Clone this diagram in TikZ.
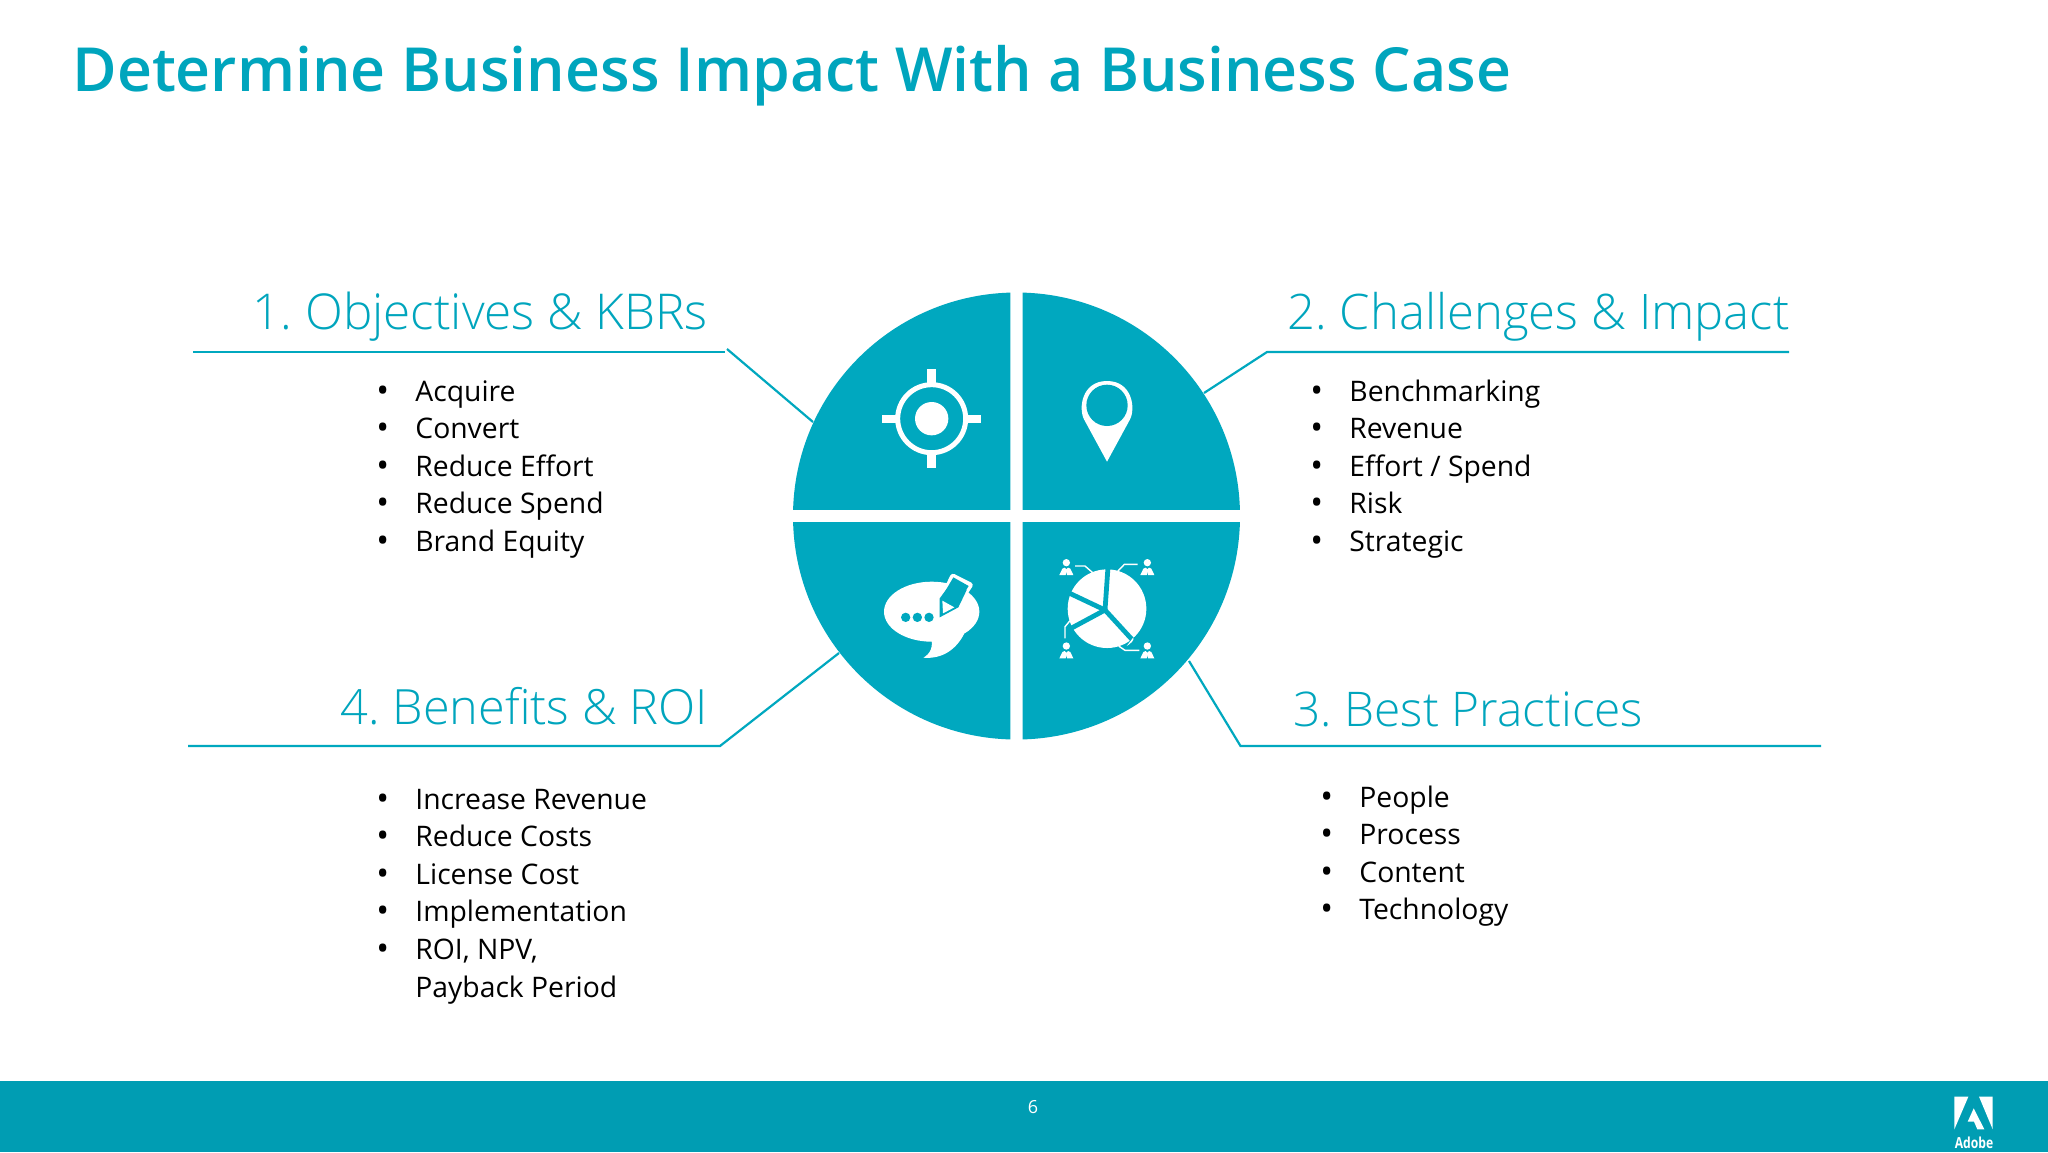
\documentclass[tikz,border=0pt]{standalone}
\usepackage{fontspec}
\setmainfont{Open Sans}
\newfontfamily\lightface{Open Sans Light}
\IfFontExistsTF{Open Sans Semibold}{\newfontfamily\semiface{Open Sans Semibold}}{\newfontfamily\semiface{Open Sans}[FakeBold=1.2]}
\definecolor{adobeteal}{HTML}{00A8BF}
\definecolor{bandteal}{HTML}{009DB3}
\definecolor{headteal}{HTML}{00A5BD}
\tikzset{
  ruleline/.style={draw=adobeteal,line width=1.1pt},
  headtext/.style={anchor=base west,inner sep=0pt,text=headteal,font=\lightface\fontsize{24.4}{28}\selectfont},
  bodytext/.style={anchor=base west,inner sep=0pt,text=black,font=\fontsize{14.15}{18}\selectfont},
  bullettext/.style={anchor=base west,inner sep=0pt,text=black,font=\fontsize{17}{20}\selectfont},
  whiteline/.style={draw=white,line width=0.7pt,line join=round}
}
\newcommand{\personicon}[2]{%
  \fill[white] (#1,#2-2) circle[radius=11];
  \fill[white] (#1-21,#2+35) -- (#1-12,#2+16) -- (#1-5,#2+13) -- (#1,#2+18) -- (#1+5,#2+13) -- (#1+12,#2+16) -- (#1+21,#2+35) -- (#1+2,#2+35) -- (#1,#2+25) -- (#1-2,#2+35) -- cycle;
}
\begin{document}
\begin{tikzpicture}[x=0.5pt,y=-0.5pt]
\useasboundingbox (0,0) rectangle (2048,1152);
\fill[white] (0,0) rectangle (2048,1152);
\fill[bandteal] (0,1081) rectangle (2048,1152);

\node[anchor=base west,inner sep=0pt,text=headteal,font=\semiface\fontsize{30.4}{36}\selectfont] (title) at (72,91) {Determine Business Impact With a Business Case};

% the four quarters
\foreach \qx/\qy/\ax/\ay in {1022.7/509.7/1250/280,1022.7/522.3/1250/760,1010.3/509.7/780/280,1010.3/522.3/780/760}{
  \begin{scope}
    \clip (\qx,\qy) rectangle (\ax,\ay);
    \fill[adobeteal] (1016.5,516) circle[radius=223.5];
  \end{scope}
}

% rules and leaders
\coordinate (r1a) at (193,352); \coordinate (r1b) at (725,352);
\coordinate (d1a) at (727,349); \coordinate (d1b) at (813,422);
\coordinate (r2a) at (1267,352); \coordinate (r2b) at (1789,352);
\coordinate (d2b) at (1204,393);
\coordinate (r3a) at (1240.5,746); \coordinate (r3b) at (1821,746);
\coordinate (d3b) at (1189,661);
\coordinate (r4a) at (188,746); \coordinate (r4b) at (720,746);
\coordinate (d4b) at (839,653);
\draw[ruleline] (r1a) -- (r1b);
\draw[ruleline] (d1a) -- (d1b);
\draw[ruleline] (r2b) -- (r2a) -- (d2b);
\draw[ruleline] (r3b) -- (r3a) -- (d3b);
\draw[ruleline] (r4a) -- (r4b) -- (d4b);

% headings
\node[headtext,font=\lightface\fontsize{24.7}{28}\selectfont] (h1) at (252,329) {1.\hspace{-2pt} Objectives \& KBRs};
\node[headtext,font=\lightface\fontsize{24.5}{28}\selectfont] (h2) at (1287,329) {2.\hspace{-2pt} Challenges \& Impact};
\node[headtext,font=\lightface\fontsize{23.9}{28}\selectfont] (h3) at (1293,726) {3.\hspace{-2pt} Best Practices};
\node[headtext,font=\lightface\fontsize{24.3}{28}\selectfont] (h4) at (340,724) {4.\hspace{-2pt} Benefits \& ROI};

% lists
\foreach \ty/\lbl [count=\i] in {401/Acquire,438.6/Convert,476.2/Reduce Effort,513.8/Reduce Spend,551.4/Brand Equity}{
  \node[bodytext] (la\i) at (415,\ty) {\lbl};
  \node[bullettext] (ba\i) at (376,\ty+1) {•};
}
\foreach \ty/\lbl [count=\i] in {401/Benchmarking,438.6/Revenue,476.2/{Effort / Spend},513.8/Risk,551.4/Strategic}{
  \node[bodytext] (lb\i) at (1349,\ty) {\lbl};
  \node[bullettext] (bb\i) at (1310,\ty+1) {•};
}
\foreach \ty/\lbl [count=\i] in {807/People,844.6/Process,882.2/Content,919.8/Technology}{
  \node[bodytext] (lc\i) at (1359,\ty) {\lbl};
  \node[bullettext] (bc\i) at (1320,\ty+1) {•};
}
\foreach \ty/\lbl [count=\i] in {809/Increase Revenue,846.6/Reduce Costs,884.2/License Cost,921.8/Implementation,959.4/{ROI, NPV,},997/Payback Period}{
  \node[bodytext] (ld\i) at (415,\ty) {\lbl};
}
\foreach \ty [count=\i] in {809,846.6,884.2,921.8,959.4}{
  \node[bullettext] (bd\i) at (376,\ty+1) {•};
}

% icons, in a local frame at 1/3 pixel
\begin{scope}[shift={(780,280)},x=0.16667pt,y=-0.16667pt]
  % target
  \draw[white,line width=2.5pt] (455,416) circle[radius=102];
  \fill[white] (455,416) circle[radius=50];
  \fill[white] (442,268) rectangle (468,312);
  \fill[white] (442,522) rectangle (468,565);
  \fill[white] (306,404) rectangle (350,430);
  \fill[white] (560,404) rectangle (604,430);
  % pin
  \fill[white] (981,545) -- (912,418) .. controls (895,385) and (905,303) .. (981,303) .. controls (1057,303) and (1067,385) .. (1050,418) -- cycle;
  \fill[adobeteal] (981,376) circle[radius=62];
  % speech bubble
  \fill[white] (455,995) ellipse[x radius=143,y radius=90];
  \fill[white] (452,1070) .. controls (462,1100) and (450,1122) .. (430,1133) .. controls (490,1138) and (530,1105) .. (552,1062) -- cycle;
  \foreach \dx in {377,412,447}{\fill[adobeteal] (\dx,1012) circle[radius=14];}
  % pencil
  \fill[white,rounded corners=1.6pt] (515,878) -- (582,912) -- (530,992) -- (476,958) -- cycle;
  \fill[adobeteal] (479,955) -- (479,1012) -- (535,982) -- (560,930) -- (520,900) -- cycle;
  \fill[adobeteal] (520,892) -- (566,918) -- (525,982) -- (483,955) -- cycle;
  \fill[white] (487,962) -- (523,982) -- (489,1000) -- cycle;
  % pie chart
  \fill[white] (981,986) circle[radius=118];
  \draw[adobeteal,line width=2.4pt] (975,990) -- (984,860);
  \draw[adobeteal,line width=2.4pt] (975,990) -- (865,938);
  \draw[adobeteal,line width=2.4pt] (975,990) -- (860,1052);
  \draw[adobeteal,line width=2.4pt] (975,990) -- (1062,1085);
  \fill[adobeteal] (1062,1072) -- (1105,1060) -- (1105,1100) -- (1048,1100) -- cycle;
  \fill[white] (1040,1098) -- (1050,1085) -- (1060,1072) .. controls (1065,1080) and (1050,1092) .. (1040,1098) -- cycle;
  \draw[whiteline] (885,858) -- (915,858) -- (938,878);
  \draw[whiteline] (1012,875) -- (1033,853) -- (1073,853);
  \draw[whiteline] (855,1075) -- (855,1040) -- (870,1022);
  \draw[whiteline] (1016,1098) -- (1035,1111) -- (1078,1111);
  \personicon{859}{850}
  \personicon{1102}{850}
  \personicon{859}{1100}
  \personicon{1102}{1100}
\end{scope}

% footer
\node[anchor=center,inner sep=0pt,text=white,font=\fontsize{9}{11}\selectfont] (pagenum) at (1033,1107) {6};
\begin{scope}[shift={(1900,1070)},x=0.16667pt,y=-0.16667pt]
  \fill[white] (163,80) -- (205,80) -- (163,178) -- cycle;
  \fill[white] (237,80) -- (278,80) -- (278,178) -- cycle;
  \fill[white] (221,115) -- (253,178) -- (232,178) -- (222,155) -- (203,155) -- cycle;
\end{scope}
\node[anchor=center,inner sep=0pt,text=white,font=\bfseries\fontsize{7.6}{9}\selectfont,xscale=0.8] (adobe) at (1974,1143) {Adobe};
\end{tikzpicture}
\end{document}
